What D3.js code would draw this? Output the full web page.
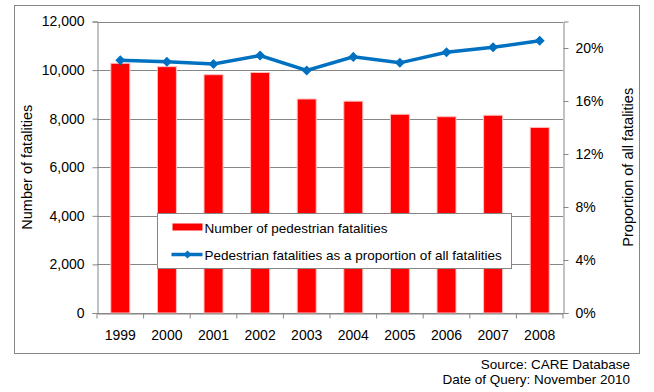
<!DOCTYPE html>
<html>
<head>
<meta charset="utf-8">
<script src="https://cdn.jsdelivr.net/npm/d3@7"></script>
<style>
  body { margin: 0; background: #fff; }
  svg { display: block; font-family: "Liberation Sans", Arial, sans-serif; }
</style>
</head>
<body>
<svg id="chart" width="654" height="392"></svg>
<script>
// data
const years = ["1999", "2000", "2001", "2002", "2003", "2004", "2005", "2006", "2007", "2008"];
const fatalities = [10280, 10140, 9810, 9900, 8810, 8720, 8180, 8080, 8140, 7640];
const proportion = [0.1908, 0.1896, 0.1880, 0.1943, 0.1830, 0.1933, 0.1888, 0.1968, 0.2006, 0.2054];
const leftTicks = [0, 2000, 4000, 6000, 8000, 10000, 12000];
const rightTicks = [0, 0.04, 0.08, 0.12, 0.16, 0.20];

const svg = d3.select("#chart");
const margin = {top: 21.5, right: 91, bottom: 79, left: 97};
const width = 654, height = 392;

const yL = d3.scaleLinear().domain([0, 12000]).range([height - margin.bottom, margin.top]);
const yR = d3.scaleLinear().domain([0, 0.22]).range([height - margin.bottom, margin.top]);
const band = d3.scaleBand().domain(years).range([margin.left, width - margin.right]);

const grey = "#868686";

// outer frame
svg.append("rect")
  .attr("x", 14.5).attr("y", 5.5).attr("width", 625).attr("height", 348)
  .attr("fill", "none").attr("stroke", grey).attr("stroke-width", 1);

// gridlines
svg.append("g")
  .selectAll("line")
  .data(leftTicks)
  .join("line")
  .attr("x1", margin.left).attr("x2", width - margin.right)
  .attr("y1", d => Math.round(yL(d)) + 0.5).attr("y2", d => Math.round(yL(d)) + 0.5)
  .attr("stroke", grey);

// bars
svg.append("g")
  .selectAll("rect")
  .data(years)
  .join("rect")
  .attr("x", d => band(d) + band.bandwidth() / 2 - 9.5)
  .attr("width", 19)
  .attr("y", (d, i) => yL(fatalities[i]))
  .attr("height", (d, i) => yL(0) - yL(fatalities[i]))
  .attr("fill", "#ff0000")
  .attr("stroke", "#ffc0c0")
  .attr("stroke-width", 1);

// left axis
const leftAxis = svg.append("g")
  .attr("transform", `translate(${margin.left + 0.5},0)`)
  .call(d3.axisLeft(yL).tickValues(leftTicks).tickSize(5).tickFormat(d3.format(",")));

// right axis
const rightAxis = svg.append("g")
  .attr("transform", `translate(${width - margin.right + 0.5},0)`)
  .call(d3.axisRight(yR).tickValues(rightTicks).tickSize(5).tickFormat(d3.format(".0%")));

// bottom axis
const bottomAxis = svg.append("g")
  .attr("transform", `translate(0,${Math.round(yL(0)) + 0.5})`)
  .call(d3.axisBottom(band).tickSize(0).tickPadding(17));
bottomAxis.selectAll(".tick")
  .append("line")
  .attr("x1", -band.bandwidth() / 2).attr("x2", -band.bandwidth() / 2)
  .attr("y1", 0).attr("y2", 5)
  .attr("stroke", grey);
bottomAxis.append("line")
  .attr("x1", width - margin.right).attr("x2", width - margin.right)
  .attr("y1", 0).attr("y2", 5).attr("stroke", grey);

[leftAxis, rightAxis, bottomAxis].forEach(a => {
  a.select(".domain").attr("stroke", grey);
  a.selectAll(".tick line").attr("stroke", grey);
  a.selectAll("text").attr("font-size", 14).attr("fill", "#000")
    .attr("font-family", "Liberation Sans, Arial, sans-serif");
});
leftAxis.selectAll("text").attr("dx", "-5");
rightAxis.selectAll("text").attr("dx", "4");

// proportion line
const line = d3.line()
  .x((d, i) => band(years[i]) + band.bandwidth() / 2)
  .y(d => yR(d));
svg.append("path")
  .datum(proportion)
  .attr("d", line)
  .attr("fill", "none")
  .attr("stroke", "#0070c0")
  .attr("stroke-width", 3.5);

svg.append("g")
  .selectAll("path")
  .data(proportion)
  .join("path")
  .attr("transform", (d, i) => `translate(${band(years[i]) + band.bandwidth() / 2},${yR(d)})`)
  .attr("d", d3.symbol(d3.symbolDiamond2, 64))
  .attr("fill", "#0070c0");

// axis titles
svg.append("text")
  .attr("transform", `translate(32,${(margin.top + yL(0)) / 2}) rotate(-90)`)
  .attr("text-anchor", "middle")
  .attr("font-size", 14.5)
  .text("Number of fatalities");

svg.append("text")
  .attr("transform", `translate(633,${(margin.top + yL(0)) / 2}) rotate(-90)`)
  .attr("text-anchor", "middle")
  .attr("font-size", 14.5)
  .text("Proportion of all fatalities");

// legend
const legend = svg.append("g").attr("transform", "translate(157.5,213.5)");
legend.append("rect")
  .attr("width", 354).attr("height", 55)
  .attr("fill", "#fff").attr("stroke", grey);
legend.append("rect")
  .attr("x", 15).attr("y", 10).attr("width", 30).attr("height", 7)
  .attr("fill", "#ff0000");
legend.append("text")
  .attr("x", 47).attr("y", 19).attr("font-size", 13.5)
  .text("Number of pedestrian fatalities");
legend.append("line")
  .attr("x1", 14).attr("x2", 45).attr("y1", 41).attr("y2", 41)
  .attr("stroke", "#0070c0").attr("stroke-width", 3.5);
legend.append("path")
  .attr("transform", "translate(30,41)")
  .attr("d", d3.symbol(d3.symbolDiamond2, 40))
  .attr("fill", "#0070c0");
legend.append("text")
  .attr("x", 47).attr("y", 46).attr("font-size", 13.5)
  .text("Pedestrian fatalities as a proportion of all fatalities");

// source note
svg.append("text")
  .attr("x", 630).attr("y", 369).attr("text-anchor", "end").attr("font-size", 13.5)
  .text("Source: CARE Database");
svg.append("text")
  .attr("x", 630).attr("y", 384).attr("text-anchor", "end").attr("font-size", 13.5)
  .text("Date of Query: November 2010");
</script>
</body>
</html>
